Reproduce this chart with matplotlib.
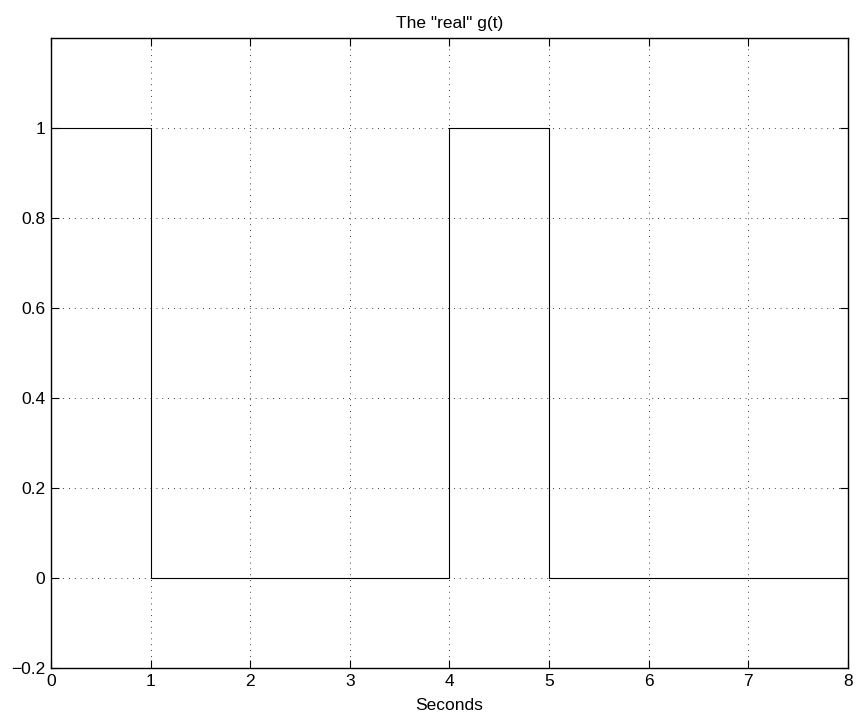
import matplotlib
matplotlib.use("Agg")
import matplotlib.pyplot as plt

# g(t) as breakpoints of a square pulse train
t = [0, 1, 1, 4, 4, 5, 5, 8]
g = [1, 1, 0, 0, 1, 1, 0, 0]

xticks = [0, 1, 2, 3, 4, 5, 6, 7, 8]
yticks = [-0.2, 0, 0.2, 0.4, 0.6, 0.8, 1]
ylabels = ["\u22120.2", "0", "0.2", "0.4", "0.6", "0.8", "1"]

plt.rcParams["font.family"] = ["Liberation Sans", "DejaVu Sans"]
fs = 12.5

fig = plt.figure(figsize=(8.56, 7.19), dpi=100)
ax = fig.add_axes([0.0596, 0.0709, 0.931, 0.876])
ax.plot(t, g, color="black", lw=0.8)

ax.set_xlim(0, 8)
ax.set_ylim(-0.2, 1.2)
ax.set_xticks(xticks)
ax.set_xticklabels([str(v) for v in xticks])
ax.set_yticks(yticks)
ax.set_yticklabels(ylabels)
ax.tick_params(direction="in", top=True, right=True, length=6, width=0.8,
               labelsize=fs, pad=4)
ax.grid(True, color="black", linestyle=(0, (1, 6)), linewidth=0.6)
for s in ax.spines.values():
    s.set_linewidth(1.0)

ax.set_title('The "real" g(t)', fontsize=fs, pad=7)
ax.set_xlabel("Seconds", fontsize=fs, labelpad=7)

fig.savefig("out.png", dpi=100)
